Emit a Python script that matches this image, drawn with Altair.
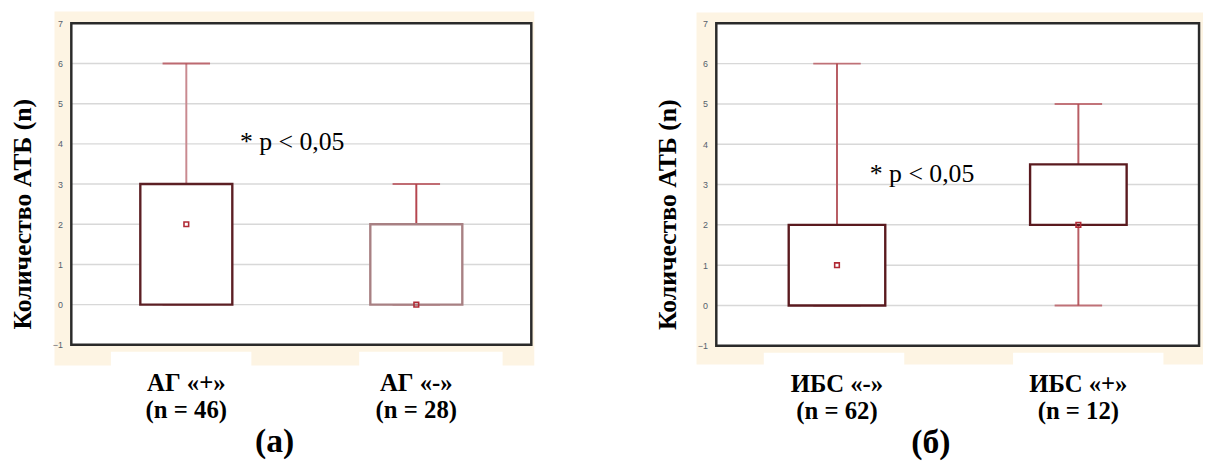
import altair as alt
import pandas as pd

# ---- data ----
groups_a = ["АГ «+»", "АГ «-»"]
n_a = [46, 28]
min_a = [0, 0]
q1_a = [0, 0]
med_a = [2, 0]
q3_a = [3, 2]
max_a = [6, 3]

groups_b = ["ИБС «-»", "ИБС «+»"]
n_b = [62, 12]
min_b = [0, 0]
q1_b = [0, 2]
med_b = [1, 2]
q3_b = [2, 3.5]
max_b = [6, 5]

y_ticks = [-1, 0, 1, 2, 3, 4, 5, 6, 7]
grid_vals = [0, 1, 2, 3, 4, 5, 6]
p_text = "* p < 0,05"
y_title = "Количество АТБ (n)"
panel_titles = ["(а)", "(б)"]

SERIF = "Liberation Serif"
CREAM = "#fdf4e3"


def panel(groups, ns, mins, q1s, meds, q3s, maxs, W, H, box_cols, whisk_cols,
          cap_cols, p_y, p_dx, title, frame, gaps):
    labels = [f"{g}|(n = {n})" for g, n in zip(groups, ns)]
    df = pd.DataFrame({"cat": labels, "lo": mins, "q1": q1s, "med": meds,
                       "q3": q3s, "hi": maxs})
    one = pd.DataFrame({"k": [0]})

    x_enc = alt.X("cat:N", sort=labels,
                  scale=alt.Scale(paddingInner=0.6, paddingOuter=0.3),
                  axis=alt.Axis(title=None, labelExpr="split(datum.label, '|')",
                                labelAngle=0, labelFont=SERIF, labelFontSize=25,
                                labelFontWeight="bold", labelColor="black",
                                labelPadding=26, labelLineHeight=28,
                                ticks=False, domain=False, zindex=1))
    y_scale = alt.Scale(domain=[-1, 7], nice=False, zero=False)
    y_axis = alt.Axis(values=y_ticks, title=y_title, titleFont=SERIF,
                      titleFontSize=26, titleFontWeight="bold", titleColor="black",
                      titlePadding=17, titleY=H / 2 + 30, labelFontSize=9,
                      labelColor="#56606c", labelPadding=9, ticks=False,
                      domain=False, grid=False, zindex=1)

    def Y(f):
        return alt.Y(f + ":Q", scale=y_scale, axis=y_axis)

    fl, fr, ft, fb = frame
    cream = alt.Chart(one).mark_rect(fill=CREAM).encode(
        x=alt.value(-fl), x2=alt.value(W + fr), y=alt.value(-ft), y2=alt.value(H + fb))
    white = alt.Chart(one).mark_rect(fill="white").encode(
        x=alt.value(0), x2=alt.value(W), y=alt.value(0), y2=alt.value(H))
    gap_layers = [
        alt.Chart(one).mark_rect(fill="white").encode(
            x=alt.value(a), x2=alt.value(b), y=alt.value(H + 7), y2=alt.value(H + fb + 1))
        for a, b in gaps
    ]
    grid = alt.Chart(pd.DataFrame({"v": grid_vals})).mark_rule(
        color="#d8d8d8", strokeWidth=1.5).encode(y=Y("v"))

    base = alt.Chart(df)
    wcol = alt.Color("cat:N", scale=alt.Scale(domain=labels, range=whisk_cols), legend=None)
    ccol = alt.Color("cat:N", scale=alt.Scale(domain=labels, range=cap_cols), legend=None)
    bcol = alt.Stroke("cat:N", scale=alt.Scale(domain=labels, range=box_cols), legend=None)

    w_up = base.mark_rule(strokeWidth=2).encode(x=x_enc, y=Y("q3"), y2="hi", color=wcol)
    w_dn = base.mark_rule(strokeWidth=2).encode(x=x_enc, y=Y("lo"), y2="q1", color=wcol)
    cap_hi = base.mark_tick(size=48, thickness=2).encode(x=x_enc, y=Y("hi"), color=ccol)
    cap_lo = base.mark_tick(size=48, thickness=2).encode(x=x_enc, y=Y("lo"), color=ccol)
    box = base.mark_bar(fill="white", strokeWidth=2.4, opacity=1).encode(
        x=x_enc, y=Y("q1"), y2="q3", stroke=bcol)
    med = base.mark_point(shape="square", filled=False, size=22, strokeWidth=1.6,
                          color="#b02a35", opacity=1).encode(x=x_enc, y=Y("med"))
    ptxt = alt.Chart(pd.DataFrame({"cat": [labels[0]], "y": [p_y], "t": [p_text]})).mark_text(
        font=SERIF, fontSize=26, color="black", dx=p_dx, baseline="middle", align="center"
    ).encode(x=x_enc, y=Y("y"), text="t:N")
    border = alt.Chart(one).mark_rect(filled=False, stroke="#2a2a2a", strokeWidth=2.5).encode(
        x=alt.value(0), x2=alt.value(W), y=alt.value(0), y2=alt.value(H))

    layers = [cream, white] + gap_layers + [grid, w_up, w_dn, cap_hi, cap_lo, box, med, ptxt, border]
    return alt.layer(*layers).resolve_scale(color="independent", stroke="independent").properties(
        width=W, height=H,
        title=alt.TitleParams(title, orient="bottom", font=SERIF, fontSize=34,
                              fontWeight="bold", color="black", dx=-27, offset=2))


left = panel(groups_a, n_a, min_a, q1_a, med_a, q3_a, max_a, 465, 325,
             ["#5c1f24", "#a88083"], ["#c98a90", "#b5464f"], ["#b23a45", "#b23a45"],
             4.05, 107, panel_titles[0], (17, 3, 12, 21), [(40, 182), (291, 436)])
right = panel(groups_b, n_b, min_b, q1_b, med_b, q3_b, max_b, 488, 326,
              ["#5a1a1f", "#5a1a1f"], ["#b85d64", "#b85d64"], ["#b5464e", "#b5464e"],
              3.26, 86, panel_titles[1], (20, 4, 11, 19), [(48, 190), (300, 452)])

chart = alt.hconcat(left, right, spacing=120).resolve_scale(
    x="independent", y="independent", color="independent", stroke="independent"
).properties(
    padding={"left": 1, "top": 0, "right": 0, "bottom": 0}
).configure_view(stroke=None).configure(background="white")

chart.save("out.html", embed_options={"renderer": "svg", "actions": False})
